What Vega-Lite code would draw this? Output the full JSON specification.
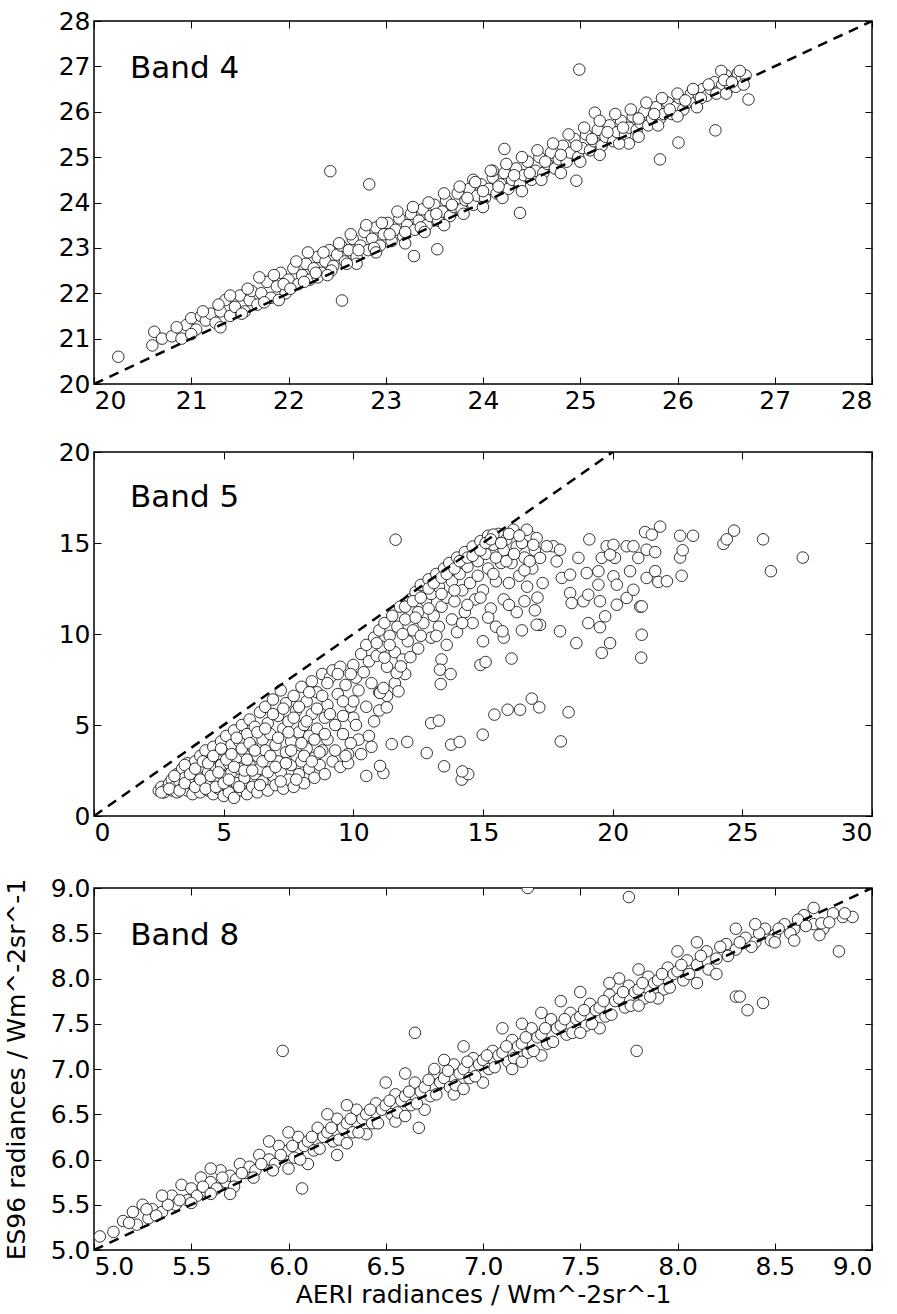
{
"$schema":"https://vega.github.io/schema/vega-lite/v6.json",
"background":"white",
"padding":{"left":3,"top":8,"right":5,"bottom":0},
"spacing":25,
"config":{
"view":{"stroke":"black","strokeWidth":1.5},
"axis":{"domain":false,"grid":false,"tickColor":"black","tickSize":-7,"tickWidth":1,"labelFont":"DejaVu Sans","labelFontSize":25,"labelColor":"black","labelPadding":11,"titleFont":"DejaVu Sans","titleFontSize":25,"titleFontWeight":"normal","titleColor":"black"}
},
"datasets":{
"b4":[{"x":20.25,"y":20.6},{"x":20.6,"y":20.85},{"x":20.62,"y":21.15},{"x":20.7,"y":21.0},{"x":20.8,"y":21.05},{"x":20.9,"y":21.0},{"x":20.95,"y":21.3},{"x":21.0,"y":21.45},{"x":21.05,"y":21.2},{"x":21.1,"y":21.5},{"x":21.15,"y":21.4},{"x":21.2,"y":21.55},{"x":21.25,"y":21.35},{"x":21.3,"y":21.6},{"x":21.35,"y":21.85},{"x":21.4,"y":21.5},{"x":21.45,"y":21.7},{"x":21.5,"y":21.95},{"x":21.55,"y":21.6},{"x":21.6,"y":21.85},{"x":21.62,"y":22.05},{"x":21.68,"y":21.75},{"x":21.72,"y":22.0},{"x":21.78,"y":22.25},{"x":21.82,"y":21.9},{"x":21.88,"y":22.15},{"x":21.92,"y":22.45},{"x":21.97,"y":22.0},{"x":22.0,"y":22.3},{"x":22.05,"y":22.55},{"x":22.1,"y":22.2},{"x":22.14,"y":22.4},{"x":22.18,"y":22.65},{"x":22.22,"y":22.3},{"x":22.26,"y":22.55},{"x":22.3,"y":22.8},{"x":22.34,"y":22.45},{"x":22.38,"y":22.7},{"x":22.42,"y":22.95},{"x":22.46,"y":22.6},{"x":22.5,"y":22.85},{"x":22.54,"y":23.05},{"x":22.58,"y":22.7},{"x":22.62,"y":22.95},{"x":22.66,"y":23.2},{"x":22.7,"y":22.8},{"x":22.74,"y":23.05},{"x":22.78,"y":23.35},{"x":22.82,"y":22.95},{"x":22.86,"y":23.2},{"x":22.9,"y":23.45},{"x":22.94,"y":23.05},{"x":22.98,"y":23.3},{"x":23.02,"y":23.55},{"x":23.06,"y":23.15},{"x":23.1,"y":23.4},{"x":23.14,"y":23.65},{"x":23.18,"y":23.25},{"x":23.22,"y":23.5},{"x":23.26,"y":23.75},{"x":23.3,"y":23.4},{"x":23.34,"y":23.6},{"x":23.38,"y":23.85},{"x":23.42,"y":23.5},{"x":23.46,"y":23.7},{"x":23.5,"y":23.95},{"x":23.54,"y":23.6},{"x":23.58,"y":23.8},{"x":23.62,"y":24.05},{"x":23.66,"y":23.7},{"x":23.7,"y":23.9},{"x":23.74,"y":24.2},{"x":23.78,"y":23.85},{"x":23.82,"y":24.05},{"x":23.86,"y":24.3},{"x":23.9,"y":23.95},{"x":23.94,"y":24.15},{"x":23.98,"y":24.4},{"x":24.02,"y":24.1},{"x":24.06,"y":24.3},{"x":24.1,"y":24.55},{"x":24.14,"y":24.2},{"x":24.18,"y":24.4},{"x":24.22,"y":24.65},{"x":24.26,"y":24.3},{"x":24.3,"y":24.5},{"x":24.34,"y":24.75},{"x":24.38,"y":24.4},{"x":24.42,"y":24.6},{"x":24.46,"y":24.9},{"x":24.5,"y":24.5},{"x":24.54,"y":24.7},{"x":24.58,"y":25.0},{"x":24.62,"y":24.65},{"x":24.66,"y":24.85},{"x":24.7,"y":25.1},{"x":24.74,"y":24.75},{"x":24.78,"y":24.95},{"x":24.82,"y":25.25},{"x":24.86,"y":24.9},{"x":24.9,"y":25.1},{"x":24.94,"y":25.4},{"x":24.98,"y":25.0},{"x":25.02,"y":25.2},{"x":25.06,"y":25.5},{"x":25.1,"y":25.15},{"x":25.14,"y":25.35},{"x":25.18,"y":25.6},{"x":25.22,"y":25.25},{"x":25.26,"y":25.45},{"x":25.3,"y":25.7},{"x":25.34,"y":25.35},{"x":25.38,"y":25.55},{"x":25.42,"y":25.8},{"x":25.46,"y":25.5},{"x":25.5,"y":25.65},{"x":25.54,"y":25.9},{"x":25.58,"y":25.6},{"x":25.62,"y":25.75},{"x":25.66,"y":26.0},{"x":25.7,"y":25.7},{"x":25.74,"y":25.85},{"x":25.78,"y":26.1},{"x":25.82,"y":25.85},{"x":25.86,"y":25.95},{"x":25.9,"y":26.2},{"x":25.94,"y":25.95},{"x":25.98,"y":26.1},{"x":26.02,"y":26.3},{"x":26.06,"y":26.05},{"x":26.1,"y":26.2},{"x":26.14,"y":26.4},{"x":26.18,"y":26.2},{"x":26.22,"y":26.35},{"x":26.26,"y":26.5},{"x":26.3,"y":26.35},{"x":26.34,"y":26.5},{"x":26.38,"y":26.65},{"x":26.42,"y":26.45},{"x":26.46,"y":26.6},{"x":26.5,"y":26.8},{"x":26.54,"y":26.55},{"x":26.58,"y":26.7},{"x":26.62,"y":26.85},{"x":26.66,"y":26.7},{"x":26.7,"y":26.8},{"x":26.45,"y":26.9},{"x":26.6,"y":26.55},{"x":23.2,"y":23.1},{"x":23.6,"y":23.5},{"x":24.0,"y":23.9},{"x":24.4,"y":24.25},{"x":24.8,"y":24.65},{"x":25.2,"y":25.05},{"x":25.6,"y":25.45},{"x":26.0,"y":25.9},{"x":22.7,"y":22.65},{"x":22.3,"y":22.35},{"x":22.43,"y":24.69},{"x":22.83,"y":24.4},{"x":22.55,"y":21.84},{"x":23.29,"y":22.82},{"x":23.53,"y":22.97},{"x":24.38,"y":23.77},{"x":24.22,"y":25.18},{"x":24.99,"y":26.93},{"x":24.96,"y":24.48},{"x":25.82,"y":24.95},{"x":26.01,"y":25.32},{"x":26.39,"y":25.59},{"x":26.73,"y":26.27},{"x":25.15,"y":25.98},{"x":24.1,"y":24.7},{"x":23.9,"y":24.5},{"x":25.5,"y":25.3},{"x":20.85,"y":21.25},{"x":21.0,"y":21.1},{"x":21.12,"y":21.6},{"x":21.28,"y":21.75},{"x":21.4,"y":21.95},{"x":21.52,"y":21.55},{"x":21.58,"y":22.1},{"x":21.7,"y":22.35},{"x":21.75,"y":21.8},{"x":21.85,"y":22.4},{"x":21.95,"y":22.2},{"x":22.02,"y":22.1},{"x":22.08,"y":22.7},{"x":22.16,"y":22.25},{"x":22.2,"y":22.9},{"x":22.28,"y":22.45},{"x":22.36,"y":22.9},{"x":22.44,"y":22.5},{"x":22.52,"y":23.1},{"x":22.6,"y":22.65},{"x":22.64,"y":23.3},{"x":22.72,"y":22.95},{"x":22.8,"y":23.5},{"x":22.88,"y":23.0},{"x":22.96,"y":23.55},{"x":23.04,"y":23.3},{"x":23.12,"y":23.8},{"x":23.2,"y":23.35},{"x":23.28,"y":23.9},{"x":23.36,"y":23.45},{"x":23.44,"y":24.0},{"x":23.52,"y":23.75},{"x":23.6,"y":24.2},{"x":23.68,"y":23.95},{"x":23.76,"y":24.35},{"x":23.84,"y":24.1},{"x":23.92,"y":24.45},{"x":24.0,"y":24.25},{"x":24.08,"y":24.7},{"x":24.16,"y":24.35},{"x":24.24,"y":24.85},{"x":24.32,"y":24.6},{"x":24.4,"y":25.0},{"x":24.48,"y":24.65},{"x":24.56,"y":25.15},{"x":24.64,"y":24.9},{"x":24.72,"y":25.3},{"x":24.8,"y":25.05},{"x":24.88,"y":25.5},{"x":24.96,"y":25.25},{"x":25.04,"y":25.65},{"x":25.12,"y":25.4},{"x":25.2,"y":25.8},{"x":25.28,"y":25.55},{"x":25.36,"y":25.95},{"x":25.44,"y":25.65},{"x":25.52,"y":26.05},{"x":25.6,"y":25.85},{"x":25.68,"y":26.2},{"x":25.76,"y":25.95},{"x":25.84,"y":26.3},{"x":25.92,"y":26.05},{"x":26.0,"y":26.4},{"x":26.08,"y":26.25},{"x":26.16,"y":26.5},{"x":26.24,"y":26.3},{"x":26.32,"y":26.6},{"x":26.4,"y":26.4},{"x":26.48,"y":26.7},{"x":26.56,"y":26.65},{"x":26.64,"y":26.9},{"x":26.68,"y":26.6},{"x":21.3,"y":21.25},{"x":21.9,"y":21.85},{"x":22.4,"y":22.4},{"x":22.9,"y":22.9},{"x":23.4,"y":23.35},{"x":23.8,"y":23.75},{"x":24.2,"y":24.1},{"x":24.6,"y":24.5},{"x":25.0,"y":24.9},{"x":25.4,"y":25.3},{"x":25.8,"y":25.7},{"x":26.2,"y":26.1},{"x":26.5,"y":26.4}],
"b5":[{"x":2.5,"y":1.4},{"x":2.6,"y":1.6},{"x":2.7,"y":1.3},{"x":2.8,"y":1.5},{"x":2.9,"y":1.8},{"x":3.0,"y":1.4},{"x":3.0,"y":2.0},{"x":3.1,"y":1.6},{"x":3.2,"y":2.3},{"x":3.2,"y":1.3},{"x":3.3,"y":1.9},{"x":3.4,"y":1.5},{"x":3.4,"y":2.6},{"x":3.5,"y":2.1},{"x":3.6,"y":1.4},{"x":3.6,"y":2.9},{"x":3.7,"y":1.8},{"x":3.8,"y":2.4},{"x":3.8,"y":1.2},{"x":3.9,"y":3.0},{"x":4.0,"y":1.6},{"x":4.0,"y":2.2},{"x":4.1,"y":3.3},{"x":4.1,"y":1.3},{"x":4.2,"y":2.7},{"x":4.3,"y":1.9},{"x":4.3,"y":3.6},{"x":4.4,"y":1.4},{"x":4.4,"y":2.4},{"x":4.5,"y":3.1},{"x":4.5,"y":1.8},{"x":4.6,"y":3.8},{"x":4.6,"y":1.2},{"x":4.7,"y":2.6},{"x":4.7,"y":2.0},{"x":4.8,"y":3.4},{"x":4.8,"y":1.5},{"x":4.9,"y":4.1},{"x":4.9,"y":2.8},{"x":5.0,"y":1.1},{"x":5.0,"y":2.2},{"x":5.0,"y":3.6},{"x":5.1,"y":1.7},{"x":5.1,"y":4.4},{"x":5.2,"y":2.9},{"x":5.2,"y":1.3},{"x":5.3,"y":3.9},{"x":5.3,"y":2.4},{"x":5.4,"y":1.0},{"x":5.4,"y":4.7},{"x":5.5,"y":1.8},{"x":5.5,"y":3.2},{"x":5.6,"y":2.6},{"x":5.6,"y":4.1},{"x":5.7,"y":1.4},{"x":5.7,"y":5.0},{"x":5.8,"y":3.5},{"x":5.8,"y":2.1},{"x":5.9,"y":1.2},{"x":5.9,"y":4.5},{"x":6.0,"y":2.8},{"x":6.0,"y":5.3},{"x":6.1,"y":1.6},{"x":6.1,"y":3.8},{"x":6.2,"y":2.3},{"x":6.2,"y":4.9},{"x":6.3,"y":1.3},{"x":6.3,"y":3.3},{"x":6.4,"y":5.7},{"x":6.4,"y":2.6},{"x":6.5,"y":4.2},{"x":6.5,"y":1.9},{"x":6.6,"y":3.6},{"x":6.6,"y":6.0},{"x":6.7,"y":1.4},{"x":6.7,"y":5.1},{"x":6.8,"y":2.9},{"x":6.8,"y":4.5},{"x":6.9,"y":2.2},{"x":6.9,"y":6.4},{"x":7.0,"y":3.9},{"x":7.0,"y":1.7},{"x":7.1,"y":5.5},{"x":7.1,"y":3.0},{"x":7.2,"y":6.9},{"x":7.2,"y":2.4},{"x":7.3,"y":4.8},{"x":7.3,"y":1.5},{"x":7.4,"y":3.5},{"x":7.4,"y":6.2},{"x":7.5,"y":2.0},{"x":7.5,"y":5.2},{"x":7.6,"y":4.1},{"x":7.6,"y":2.8},{"x":7.7,"y":6.6},{"x":7.7,"y":1.6},{"x":7.8,"y":3.3},{"x":7.8,"y":5.8},{"x":7.9,"y":4.6},{"x":7.9,"y":2.3},{"x":8.0,"y":7.1},{"x":8.0,"y":3.0},{"x":8.1,"y":5.0},{"x":8.1,"y":1.8},{"x":8.2,"y":6.3},{"x":8.2,"y":3.7},{"x":8.3,"y":2.6},{"x":8.3,"y":4.4},{"x":8.4,"y":7.4},{"x":8.4,"y":5.6},{"x":8.5,"y":2.1},{"x":8.5,"y":3.2},{"x":8.6,"y":6.8},{"x":8.6,"y":4.8},{"x":8.7,"y":2.8},{"x":8.8,"y":7.8},{"x":8.8,"y":3.6},{"x":8.9,"y":5.4},{"x":8.9,"y":2.3},{"x":9.0,"y":6.1},{"x":9.0,"y":4.2},{"x":9.1,"y":7.6},{"x":9.2,"y":3.0},{"x":9.2,"y":8.0},{"x":9.3,"y":5.0},{"x":9.4,"y":6.7},{"x":9.5,"y":2.7},{"x":9.5,"y":8.2},{"x":9.6,"y":4.5},{"x":9.7,"y":7.2},{"x":9.8,"y":3.4},{"x":9.8,"y":2.9},{"x":9.9,"y":6.0},{"x":10.0,"y":8.3},{"x":10.0,"y":5.4},{"x":10.1,"y":7.6},{"x":10.2,"y":4.2},{"x":10.3,"y":8.9},{"x":10.4,"y":7.9},{"x":10.5,"y":9.4},{"x":10.6,"y":8.5},{"x":10.7,"y":7.3},{"x":10.8,"y":9.8},{"x":10.9,"y":8.8},{"x":11.0,"y":10.2},{"x":11.0,"y":6.8},{"x":11.1,"y":9.3},{"x":11.2,"y":10.6},{"x":11.3,"y":8.2},{"x":11.4,"y":9.9},{"x":11.5,"y":11.0},{"x":11.6,"y":9.0},{"x":11.7,"y":10.4},{"x":11.8,"y":11.5},{"x":11.9,"y":8.6},{"x":12.0,"y":10.8},{"x":12.1,"y":9.6},{"x":12.2,"y":11.9},{"x":12.3,"y":10.2},{"x":12.4,"y":12.3},{"x":12.5,"y":9.2},{"x":12.5,"y":11.2},{"x":12.6,"y":12.7},{"x":12.7,"y":10.6},{"x":12.8,"y":11.8},{"x":12.9,"y":13.0},{"x":13.0,"y":9.8},{"x":13.0,"y":12.2},{"x":13.1,"y":11.0},{"x":13.2,"y":13.3},{"x":13.3,"y":10.4},{"x":13.3,"y":12.6},{"x":13.4,"y":11.5},{"x":13.5,"y":13.6},{"x":13.6,"y":9.4},{"x":13.6,"y":12.0},{"x":13.7,"y":13.9},{"x":13.8,"y":10.8},{"x":13.8,"y":12.9},{"x":13.9,"y":11.8},{"x":14.0,"y":14.2},{"x":14.0,"y":10.1},{"x":14.1,"y":13.3},{"x":14.2,"y":12.4},{"x":14.3,"y":14.5},{"x":14.3,"y":11.2},{"x":14.4,"y":13.7},{"x":14.5,"y":12.8},{"x":14.6,"y":14.8},{"x":14.6,"y":10.6},{"x":14.7,"y":11.9},{"x":14.8,"y":14.0},{"x":14.8,"y":13.2},{"x":14.9,"y":15.1},{"x":15.0,"y":12.4},{"x":15.0,"y":9.6},{"x":15.1,"y":14.4},{"x":15.2,"y":13.6},{"x":15.2,"y":15.4},{"x":15.3,"y":11.4},{"x":15.4,"y":14.9},{"x":15.5,"y":12.9},{"x":15.5,"y":10.4},{"x":15.6,"y":15.5},{"x":15.7,"y":13.9},{"x":15.8,"y":14.6},{"x":15.8,"y":11.9},{"x":15.9,"y":15.2},{"x":16.0,"y":12.8},{"x":16.1,"y":13.9},{"x":16.2,"y":15.6},{"x":16.3,"y":14.8},{"x":16.3,"y":11.2},{"x":16.4,"y":13.2},{"x":16.5,"y":15.0},{"x":16.6,"y":14.2},{"x":16.7,"y":12.6},{"x":16.8,"y":15.4},{"x":16.9,"y":13.6},{"x":17.0,"y":14.6},{"x":17.1,"y":12.0},{"x":17.2,"y":10.5},{"x":17.0,"y":11.3},{"x":16.5,"y":10.2},{"x":15.8,"y":9.8},{"x":9.6,"y":5.5},{"x":10.0,"y":6.3},{"x":10.2,"y":6.9},{"x":10.5,"y":6.0},{"x":10.8,"y":5.2},{"x":11.0,"y":5.8},{"x":11.3,"y":6.6},{"x":11.6,"y":7.3},{"x":12.0,"y":7.8},{"x":10.3,"y":3.4},{"x":9.9,"y":4.0},{"x":10.6,"y":4.4},{"x":10.7,"y":3.8},{"x":10.5,"y":2.2},{"x":11.63,"y":15.18},{"x":21.83,"y":15.9},{"x":21.25,"y":15.6},{"x":19.1,"y":15.2},{"x":22.6,"y":15.4},{"x":23.1,"y":15.4},{"x":24.27,"y":14.95},{"x":24.4,"y":15.2},{"x":24.68,"y":15.68},{"x":25.8,"y":15.2},{"x":26.1,"y":13.45},{"x":27.33,"y":14.2},{"x":22.6,"y":14.2},{"x":22.66,"y":13.2},{"x":22.7,"y":14.6},{"x":21.06,"y":11.5},{"x":21.12,"y":9.96},{"x":21.1,"y":8.7},{"x":19.9,"y":9.5},{"x":19.58,"y":8.96},{"x":17.97,"y":10.15},{"x":18.6,"y":9.5},{"x":18.3,"y":5.7},{"x":18.0,"y":4.1},{"x":16.88,"y":6.45},{"x":17.17,"y":5.97},{"x":16.43,"y":5.84},{"x":15.95,"y":5.84},{"x":15.44,"y":5.57},{"x":14.99,"y":4.47},{"x":16.1,"y":8.65},{"x":14.9,"y":8.3},{"x":15.1,"y":8.46},{"x":15.75,"y":10.15},{"x":13.4,"y":8.6},{"x":13.34,"y":8.04},{"x":13.75,"y":7.8},{"x":13.37,"y":7.25},{"x":13.0,"y":5.1},{"x":13.3,"y":5.24},{"x":12.83,"y":3.46},{"x":13.77,"y":3.92},{"x":14.1,"y":4.07},{"x":13.5,"y":2.73},{"x":14.18,"y":2.0},{"x":14.43,"y":2.3},{"x":14.2,"y":2.45},{"x":11.48,"y":3.95},{"x":12.08,"y":4.07},{"x":11.16,"y":2.36},{"x":11.03,"y":2.75},{"x":11.29,"y":5.97},{"x":11.03,"y":6.76},{"x":11.16,"y":7.03},{"x":11.74,"y":6.85},{"x":11.67,"y":7.86},{"x":11.83,"y":8.22},{"x":12.2,"y":8.73},{"x":17.71,"y":14.82},{"x":17.97,"y":14.63},{"x":17.84,"y":13.99},{"x":18.04,"y":13.08},{"x":18.36,"y":13.26},{"x":18.36,"y":12.25},{"x":18.42,"y":11.7},{"x":18.68,"y":14.18},{"x":18.87,"y":11.8},{"x":19.0,"y":13.35},{"x":19.06,"y":12.16},{"x":19.45,"y":13.45},{"x":19.45,"y":12.71},{"x":19.51,"y":11.8},{"x":19.58,"y":14.18},{"x":19.71,"y":10.97},{"x":19.77,"y":14.82},{"x":20.03,"y":14.9},{"x":20.09,"y":14.18},{"x":20.03,"y":13.17},{"x":20.16,"y":12.71},{"x":20.16,"y":11.61},{"x":20.54,"y":11.98},{"x":20.54,"y":14.82},{"x":20.67,"y":13.45},{"x":20.8,"y":14.82},{"x":20.8,"y":12.43},{"x":20.99,"y":14.18},{"x":21.12,"y":11.52},{"x":21.31,"y":13.08},{"x":21.31,"y":14.63},{"x":21.64,"y":14.5},{"x":21.64,"y":13.45},{"x":21.76,"y":12.86},{"x":22.09,"y":12.9},{"x":21.51,"y":15.46},{"x":19.9,"y":14.36},{"x":19.06,"y":10.6},{"x":19.51,"y":10.37},{"x":17.07,"y":10.51},{"x":16.69,"y":15.73},{"x":17.07,"y":15.27},{"x":17.2,"y":14.18},{"x":16.94,"y":14.9},{"x":17.46,"y":14.82},{"x":15.4,"y":15.46},{"x":16.17,"y":15.73},{"x":2.6,"y":1.3},{"x":2.9,"y":1.5},{"x":3.1,"y":2.2},{"x":3.3,"y":1.4},{"x":3.5,"y":1.8},{"x":3.5,"y":2.8},{"x":3.7,"y":2.3},{"x":3.9,"y":1.6},{"x":3.9,"y":2.6},{"x":4.1,"y":2.0},{"x":4.2,"y":3.0},{"x":4.3,"y":1.5},{"x":4.4,"y":2.9},{"x":4.5,"y":2.2},{"x":4.6,"y":3.3},{"x":4.7,"y":1.6},{"x":4.8,"y":2.4},{"x":4.9,"y":3.7},{"x":5.0,"y":1.8},{"x":5.1,"y":3.1},{"x":5.2,"y":2.0},{"x":5.3,"y":3.4},{"x":5.4,"y":2.7},{"x":5.5,"y":4.3},{"x":5.6,"y":1.6},{"x":5.7,"y":3.7},{"x":5.8,"y":2.5},{"x":5.9,"y":3.1},{"x":6.0,"y":4.0},{"x":6.1,"y":2.5},{"x":6.2,"y":3.6},{"x":6.3,"y":4.6},{"x":6.4,"y":1.7},{"x":6.5,"y":3.0},{"x":6.6,"y":4.8},{"x":6.7,"y":2.4},{"x":6.8,"y":3.3},{"x":6.9,"y":5.6},{"x":7.0,"y":2.7},{"x":7.1,"y":4.3},{"x":7.2,"y":1.9},{"x":7.3,"y":5.9},{"x":7.4,"y":2.9},{"x":7.5,"y":4.6},{"x":7.6,"y":3.6},{"x":7.7,"y":5.4},{"x":7.8,"y":2.0},{"x":7.9,"y":6.0},{"x":8.0,"y":4.0},{"x":8.1,"y":3.3},{"x":8.2,"y":5.2},{"x":8.3,"y":6.8},{"x":8.4,"y":3.0},{"x":8.5,"y":4.2},{"x":8.6,"y":5.9},{"x":8.7,"y":3.5},{"x":8.8,"y":6.6},{"x":8.9,"y":4.5},{"x":9.0,"y":7.3},{"x":9.1,"y":5.6},{"x":9.3,"y":3.6},{"x":9.4,"y":7.8},{"x":9.6,"y":6.3},{"x":9.7,"y":3.3},{"x":9.9,"y":7.8},{"x":10.1,"y":5.0},{"x":12.0,"y":11.5},{"x":12.3,"y":11.8},{"x":12.6,"y":12.0},{"x":12.9,"y":12.5},{"x":13.1,"y":12.8},{"x":13.4,"y":13.1},{"x":13.6,"y":13.3},{"x":13.9,"y":13.6},{"x":14.1,"y":14.0},{"x":14.4,"y":14.2},{"x":14.6,"y":14.3},{"x":14.9,"y":14.6},{"x":15.1,"y":15.0},{"x":15.3,"y":15.2},{"x":15.5,"y":14.2},{"x":15.7,"y":15.0},{"x":15.9,"y":14.0},{"x":16.0,"y":15.5},{"x":16.2,"y":14.4},{"x":16.4,"y":15.4},{"x":16.6,"y":13.5},{"x":16.8,"y":14.0},{"x":15.4,"y":13.3},{"x":14.9,"y":12.0},{"x":14.4,"y":11.6},{"x":13.9,"y":12.4},{"x":13.4,"y":12.2},{"x":12.9,"y":11.4},{"x":12.4,"y":10.9},{"x":11.9,"y":10.0},{"x":11.4,"y":9.4},{"x":10.9,"y":9.5},{"x":11.2,"y":8.7},{"x":12.6,"y":9.9},{"x":13.2,"y":9.9},{"x":14.2,"y":10.6},{"x":15.2,"y":10.9},{"x":16.0,"y":11.6},{"x":16.6,"y":11.8},{"x":17.3,"y":12.8}],
"b8":[{"x":5.03,"y":5.15},{"x":5.15,"y":5.32},{"x":5.2,"y":5.42},{"x":5.22,"y":5.28},{"x":5.25,"y":5.5},{"x":5.28,"y":5.35},{"x":5.3,"y":5.45},{"x":5.35,"y":5.42},{"x":5.4,"y":5.6},{"x":5.42,"y":5.5},{"x":5.45,"y":5.72},{"x":5.48,"y":5.55},{"x":5.5,"y":5.68},{"x":5.53,"y":5.6},{"x":5.55,"y":5.8},{"x":5.58,"y":5.65},{"x":5.6,"y":5.75},{"x":5.63,"y":5.68},{"x":5.65,"y":5.88},{"x":5.68,"y":5.75},{"x":5.7,"y":5.82},{"x":5.73,"y":5.78},{"x":5.75,"y":5.95},{"x":5.78,"y":5.85},{"x":5.8,"y":5.92},{"x":5.83,"y":5.88},{"x":5.85,"y":6.05},{"x":5.88,"y":5.95},{"x":5.9,"y":6.0},{"x":5.93,"y":5.95},{"x":5.95,"y":6.15},{"x":5.98,"y":6.05},{"x":6.0,"y":6.1},{"x":6.03,"y":6.02},{"x":6.05,"y":6.25},{"x":6.08,"y":6.15},{"x":6.1,"y":6.2},{"x":6.13,"y":6.1},{"x":6.15,"y":6.35},{"x":6.18,"y":6.25},{"x":6.2,"y":6.3},{"x":6.23,"y":6.2},{"x":6.25,"y":6.45},{"x":6.28,"y":6.35},{"x":6.3,"y":6.4},{"x":6.33,"y":6.3},{"x":6.35,"y":6.55},{"x":6.38,"y":6.45},{"x":6.4,"y":6.5},{"x":6.43,"y":6.4},{"x":6.45,"y":6.62},{"x":6.48,"y":6.55},{"x":6.5,"y":6.6},{"x":6.53,"y":6.5},{"x":6.55,"y":6.72},{"x":6.58,"y":6.65},{"x":6.6,"y":6.7},{"x":6.63,"y":6.6},{"x":6.65,"y":6.85},{"x":6.68,"y":6.75},{"x":6.7,"y":6.8},{"x":6.73,"y":6.7},{"x":6.75,"y":6.95},{"x":6.78,"y":6.85},{"x":6.8,"y":6.9},{"x":6.83,"y":6.8},{"x":6.85,"y":7.05},{"x":6.88,"y":6.95},{"x":6.9,"y":7.0},{"x":6.93,"y":6.9},{"x":6.95,"y":7.12},{"x":6.98,"y":7.05},{"x":7.0,"y":7.1},{"x":7.03,"y":7.0},{"x":7.05,"y":7.2},{"x":7.08,"y":7.15},{"x":7.1,"y":7.18},{"x":7.13,"y":7.08},{"x":7.15,"y":7.32},{"x":7.18,"y":7.25},{"x":7.2,"y":7.28},{"x":7.23,"y":7.18},{"x":7.25,"y":7.45},{"x":7.28,"y":7.35},{"x":7.3,"y":7.38},{"x":7.33,"y":7.28},{"x":7.35,"y":7.55},{"x":7.38,"y":7.45},{"x":7.4,"y":7.48},{"x":7.43,"y":7.38},{"x":7.45,"y":7.62},{"x":7.48,"y":7.55},{"x":7.5,"y":7.58},{"x":7.53,"y":7.48},{"x":7.55,"y":7.72},{"x":7.58,"y":7.65},{"x":7.6,"y":7.68},{"x":7.63,"y":7.58},{"x":7.65,"y":7.82},{"x":7.68,"y":7.75},{"x":7.7,"y":7.78},{"x":7.73,"y":7.68},{"x":7.75,"y":7.92},{"x":7.78,"y":7.85},{"x":7.8,"y":7.88},{"x":7.83,"y":7.78},{"x":7.85,"y":8.02},{"x":7.88,"y":7.95},{"x":7.9,"y":7.98},{"x":7.93,"y":7.88},{"x":7.95,"y":8.12},{"x":7.98,"y":8.05},{"x":8.0,"y":8.08},{"x":8.03,"y":7.98},{"x":8.05,"y":8.2},{"x":8.1,"y":8.15},{"x":8.15,"y":8.3},{"x":8.2,"y":8.22},{"x":8.25,"y":8.38},{"x":8.3,"y":8.32},{"x":8.35,"y":8.45},{"x":8.4,"y":8.4},{"x":8.45,"y":8.55},{"x":8.5,"y":8.48},{"x":8.55,"y":8.6},{"x":8.6,"y":8.55},{"x":8.65,"y":8.7},{"x":8.7,"y":8.6},{"x":8.75,"y":8.55},{"x":8.7,"y":8.78},{"x":8.85,"y":8.68},{"x":8.9,"y":8.68},{"x":8.8,"y":8.72},{"x":8.73,"y":8.48},{"x":8.74,"y":8.61},{"x":6.1,"y":5.95},{"x":6.4,"y":6.28},{"x":6.7,"y":6.55},{"x":7.0,"y":6.85},{"x":7.3,"y":7.15},{"x":7.6,"y":7.45},{"x":7.9,"y":7.78},{"x":8.1,"y":7.95},{"x":6.25,"y":6.05},{"x":6.55,"y":6.42},{"x":6.85,"y":6.72},{"x":7.15,"y":7.0},{"x":6.2,"y":6.5},{"x":6.5,"y":6.85},{"x":6.8,"y":7.1},{"x":7.1,"y":7.45},{"x":7.4,"y":7.75},{"x":7.7,"y":8.0},{"x":8.0,"y":8.3},{"x":8.3,"y":8.55},{"x":5.97,"y":7.2},{"x":6.07,"y":5.68},{"x":6.65,"y":7.4},{"x":6.67,"y":6.35},{"x":7.23,"y":9.0},{"x":7.75,"y":8.9},{"x":7.79,"y":7.2},{"x":8.44,"y":7.73},{"x":8.36,"y":7.65},{"x":8.3,"y":7.8},{"x":8.32,"y":7.8},{"x":8.83,"y":8.3},{"x":5.1,"y":5.2},{"x":5.18,"y":5.3},{"x":5.27,"y":5.45},{"x":5.32,"y":5.38},{"x":5.38,"y":5.5},{"x":5.44,"y":5.55},{"x":5.5,"y":5.52},{"x":5.56,"y":5.7},{"x":5.6,"y":5.62},{"x":5.66,"y":5.8},{"x":5.72,"y":5.7},{"x":5.76,"y":5.85},{"x":5.82,"y":5.8},{"x":5.86,"y":5.95},{"x":5.92,"y":5.88},{"x":5.96,"y":6.05},{"x":6.02,"y":6.15},{"x":6.06,"y":6.0},{"x":6.12,"y":6.25},{"x":6.16,"y":6.12},{"x":6.22,"y":6.35},{"x":6.26,"y":6.22},{"x":6.32,"y":6.45},{"x":6.36,"y":6.3},{"x":6.42,"y":6.55},{"x":6.46,"y":6.4},{"x":6.52,"y":6.65},{"x":6.56,"y":6.52},{"x":6.62,"y":6.75},{"x":6.66,"y":6.62},{"x":6.72,"y":6.88},{"x":6.76,"y":6.72},{"x":6.82,"y":6.98},{"x":6.86,"y":6.82},{"x":6.92,"y":7.08},{"x":6.96,"y":6.92},{"x":7.02,"y":7.15},{"x":7.06,"y":7.02},{"x":7.12,"y":7.25},{"x":7.16,"y":7.12},{"x":7.22,"y":7.35},{"x":7.26,"y":7.2},{"x":7.32,"y":7.45},{"x":7.36,"y":7.3},{"x":7.42,"y":7.55},{"x":7.46,"y":7.4},{"x":7.52,"y":7.65},{"x":7.56,"y":7.5},{"x":7.62,"y":7.75},{"x":7.66,"y":7.6},{"x":7.72,"y":7.85},{"x":7.76,"y":7.7},{"x":7.82,"y":7.95},{"x":7.86,"y":7.8},{"x":7.92,"y":8.05},{"x":7.96,"y":7.9},{"x":8.02,"y":8.15},{"x":8.06,"y":8.05},{"x":8.12,"y":8.25},{"x":8.16,"y":8.1},{"x":8.22,"y":8.35},{"x":8.26,"y":8.25},{"x":8.32,"y":8.4},{"x":8.38,"y":8.35},{"x":8.42,"y":8.5},{"x":8.48,"y":8.42},{"x":8.52,"y":8.55},{"x":8.58,"y":8.5},{"x":8.62,"y":8.65},{"x":8.66,"y":8.58},{"x":8.78,"y":8.62},{"x":8.86,"y":8.72},{"x":5.35,"y":5.6},{"x":5.6,"y":5.9},{"x":5.9,"y":6.2},{"x":6.3,"y":6.6},{"x":6.6,"y":6.95},{"x":6.9,"y":7.25},{"x":7.2,"y":7.5},{"x":7.5,"y":7.85},{"x":7.8,"y":8.1},{"x":8.1,"y":8.4},{"x":8.4,"y":8.6},{"x":6.0,"y":6.3},{"x":6.75,"y":7.0},{"x":7.3,"y":7.62},{"x":7.65,"y":7.95},{"x":5.7,"y":5.62},{"x":6.0,"y":5.9},{"x":6.3,"y":6.18},{"x":6.6,"y":6.48},{"x":6.9,"y":6.78},{"x":7.2,"y":7.08},{"x":7.5,"y":7.4},{"x":7.8,"y":7.7},{"x":8.2,"y":8.05},{"x":8.5,"y":8.4},{"x":8.6,"y":8.42}]
},
"vconcat":[
{"width":778,"height":363,
"layer":[
{"data":{"name":"b4"},"mark":{"type":"circle","fill":"white","stroke":"black","strokeWidth":0.8,"size":133,"opacity":1,"clip":true},
"encoding":{"x":{"field":"x","type":"quantitative","scale":{"domain":[20,28],"zero":false,"nice":false},"axis":{"orient":"bottom","title":null,"values":[20,21,22,23,24,25,26,27,28]}},
"y":{"field":"y","type":"quantitative","scale":{"domain":[20,28],"zero":false,"nice":false},"axis":{"orient":"left","title":null,"values":[20,21,22,23,24,25,26,27,28]}}}},
{"data":{"values":[{"x":20,"y":20},{"x":28,"y":28}]},"mark":{"type":"line","color":"black","strokeWidth":2.5,"strokeDash":[10,7],"clip":true},
"encoding":{"x":{"field":"x","type":"quantitative","axis":{"orient":"top","labels":false,"title":null,"values":[20,21,22,23,24,25,26,27,28]}},
"y":{"field":"y","type":"quantitative","axis":{"orient":"right","labels":false,"title":null,"values":[20,21,22,23,24,25,26,27,28]}}}},
{"data":{"values":[{"x":20.37,"y":26.75,"label":"Band 4"}]},"mark":{"type":"text","align":"left","baseline":"alphabetic","font":"DejaVu Sans","fontSize":31,"color":"black"},
"encoding":{"x":{"field":"x","type":"quantitative","axis":null},"y":{"field":"y","type":"quantitative","axis":null},"text":{"field":"label"}}}
],
"resolve":{"axis":{"x":"independent","y":"independent"}}},
{"width":778,"height":364,
"layer":[
{"data":{"name":"b5"},"mark":{"type":"circle","fill":"white","stroke":"black","strokeWidth":0.8,"size":133,"opacity":1,"clip":true},
"encoding":{"x":{"field":"x","type":"quantitative","scale":{"domain":[0,30],"nice":false},"axis":{"orient":"bottom","title":null,"values":[0,5,10,15,20,25,30]}},
"y":{"field":"y","type":"quantitative","scale":{"domain":[0,20],"nice":false},"axis":{"orient":"left","title":null,"values":[0,5,10,15,20]}}}},
{"data":{"values":[{"x":0,"y":0},{"x":20,"y":20}]},"mark":{"type":"line","color":"black","strokeWidth":2.5,"strokeDash":[10,7],"clip":true},
"encoding":{"x":{"field":"x","type":"quantitative","axis":{"orient":"top","labels":false,"title":null,"values":[0,5,10,15,20,25,30]}},
"y":{"field":"y","type":"quantitative","axis":{"orient":"right","labels":false,"title":null,"values":[0,5,10,15,20]}}}},
{"data":{"values":[{"x":1.39,"y":16.98,"label":"Band 5"}]},"mark":{"type":"text","align":"left","baseline":"alphabetic","font":"DejaVu Sans","fontSize":31,"color":"black"},
"encoding":{"x":{"field":"x","type":"quantitative","axis":null},"y":{"field":"y","type":"quantitative","axis":null},"text":{"field":"label"}}}
],
"resolve":{"axis":{"x":"independent","y":"independent"}}},
{"width":778,"height":362,
"layer":[
{"data":{"name":"b8"},"mark":{"type":"circle","fill":"white","stroke":"black","strokeWidth":0.8,"size":133,"opacity":1,"clip":true},
"encoding":{"x":{"field":"x","type":"quantitative","scale":{"domain":[5,9],"zero":false,"nice":false},"axis":{"orient":"bottom","title":"AERI radiances / Wm^-2sr^-1","titlePadding":3,"format":".1f","values":[5,5.5,6,6.5,7,7.5,8,8.5,9]}},
"y":{"field":"y","type":"quantitative","scale":{"domain":[5,9],"zero":false,"nice":false},"axis":{"orient":"left","title":"ES96 radiances / Wm^-2sr^-1","titlePadding":21,"format":".1f","values":[5,5.5,6,6.5,7,7.5,8,8.5,9]}}}},
{"data":{"values":[{"x":5,"y":5},{"x":9,"y":9}]},"mark":{"type":"line","color":"black","strokeWidth":2.5,"strokeDash":[10,7],"clip":true},
"encoding":{"x":{"field":"x","type":"quantitative","axis":{"orient":"top","labels":false,"title":null,"minExtent":16,"values":[5,5.5,6,6.5,7,7.5,8,8.5,9]}},
"y":{"field":"y","type":"quantitative","axis":{"orient":"right","labels":false,"title":null,"values":[5,5.5,6,6.5,7,7.5,8,8.5,9]}}}},
{"data":{"values":[{"x":5.186,"y":8.37,"label":"Band 8"}]},"mark":{"type":"text","align":"left","baseline":"alphabetic","font":"DejaVu Sans","fontSize":31,"color":"black"},
"encoding":{"x":{"field":"x","type":"quantitative","axis":null},"y":{"field":"y","type":"quantitative","axis":null},"text":{"field":"label"}}}
],
"resolve":{"axis":{"x":"independent","y":"independent"}}}
]
}
